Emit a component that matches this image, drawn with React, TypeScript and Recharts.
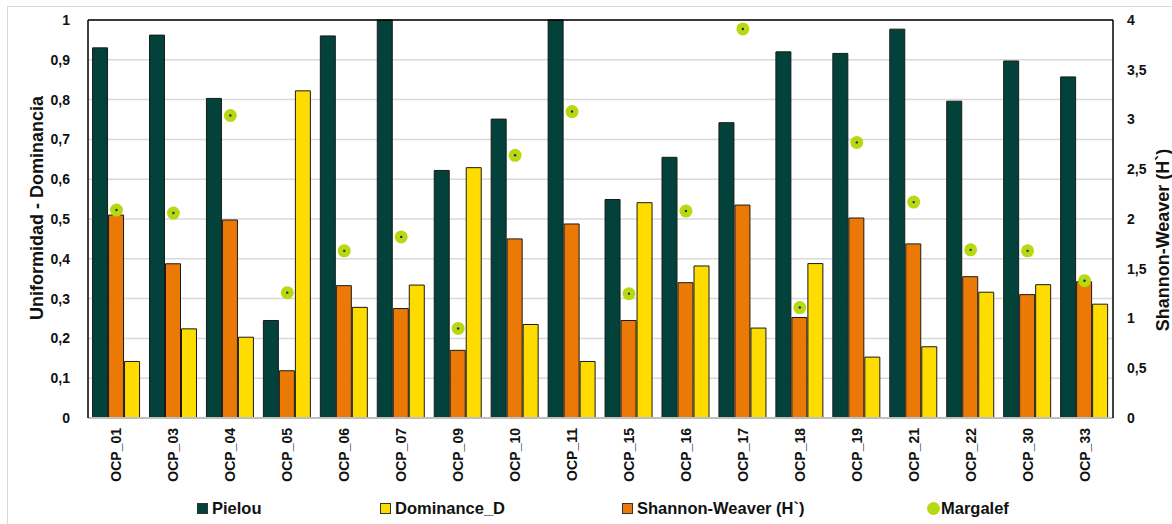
import { ComposedChart, Bar, Scatter, XAxis, YAxis, CartesianGrid, ReferenceLine, Legend, Label } from "recharts";

const categories = ["OCP_01", "OCP_03", "OCP_04", "OCP_05", "OCP_06", "OCP_07", "OCP_09", "OCP_10", "OCP_11", "OCP_15", "OCP_16", "OCP_17", "OCP_18", "OCP_19", "OCP_21", "OCP_22", "OCP_30", "OCP_33"];
const pielou = [0.93, 0.962, 0.803, 0.245, 0.96, 1.0, 0.622, 0.751, 1.0, 0.549, 0.655, 0.742, 0.92, 0.916, 0.977, 0.796, 0.897, 0.857];
const dominance = [0.142, 0.224, 0.203, 0.822, 0.278, 0.334, 0.629, 0.235, 0.142, 0.541, 0.382, 0.226, 0.388, 0.153, 0.179, 0.316, 0.335, 0.286];
const shannon = [2.04, 1.55, 1.99, 0.475, 1.33, 1.1, 0.68, 1.8, 1.95, 0.98, 1.36, 2.14, 1.01, 2.01, 1.75, 1.42, 1.24, 1.37];
const margalef = [2.09, 2.06, 3.04, 1.26, 1.68, 1.82, 0.9, 2.64, 3.08, 1.25, 2.08, 3.91, 1.11, 2.77, 2.17, 1.69, 1.68, 1.38];
const leftTicks = [0, 0.1, 0.2, 0.3, 0.4, 0.5, 0.6, 0.7, 0.8, 0.9, 1];
const rightTicks = [0, 0.5, 1, 1.5, 2, 2.5, 3, 3.5, 4];

const data = categories.map((name, i) => ({
  name,
  pielou: pielou[i],
  dominance: dominance[i],
  shannon: shannon[i],
  margalef: margalef[i],
}));

const FONT = "'Liberation Sans', Arial, sans-serif";
const GREEN = "#03423a";
const ORANGE = "#ea7a05";
const YELLOW = "#ffdc00";
const LIME = "#b6d912";

const fmt = (v: number) => String(v).replace(".", ",");

const tickStyle = { fontSize: 14, fontWeight: 700, fill: "#111", fontFamily: FONT };

function XTick(props: any) {
  const { x, payload } = props;
  return (
    <text
      x={x}
      y={428}
      transform={`rotate(-90, ${x}, 428)`}
      textAnchor="end"
      dominantBaseline="central"
      style={tickStyle}
    >
      {payload.value}
    </text>
  );
}

function Dot(props: any) {
  const { cx, cy } = props;
  if (cx == null || cy == null) return null;
  return (
    <g>
      <circle cx={cx} cy={cy} r={6.5} fill={LIME} />
      <circle cx={cx} cy={cy} r={1.2} fill="#1d2b5c" />
    </g>
  );
}

const legendItems = [
  { label: "Pielou", color: GREEN, round: false, left: 197 },
  { label: "Dominance_D", color: YELLOW, round: false, left: 380 },
  { label: "Shannon-Weaver (H`)", color: ORANGE, round: false, left: 622 },
  { label: "Margalef", color: LIME, round: true, left: 927 },
];

function LegendBox() {
  return (
    <div style={{ position: "relative", height: 30, width: 1172, fontFamily: FONT }}>
      {legendItems.map((it) => (
        <div key={it.label} style={{ position: "absolute", left: it.left, top: 0, height: 30, display: "flex", alignItems: "center" }}>
          {it.round ? (
            <span style={{ width: 13, height: 13, borderRadius: "50%", background: it.color, display: "inline-block", marginRight: 1 }} />
          ) : (
            <span style={{ width: 9, height: 9, background: it.color, border: "1px solid #333", display: "inline-block", marginRight: 4 }} />
          )}
          <span style={{ fontSize: 16.5, fontWeight: 700, color: "#111" }}>{it.label}</span>
        </div>
      ))}
    </div>
  );
}

function AxisTitle(props: any) {
  const { x, y, text } = props;
  return (
    <text
      x={x}
      y={y}
      transform={`rotate(-90, ${x}, ${y})`}
      textAnchor="middle"
      dominantBaseline="central"
      style={{ fontSize: 18, fontWeight: 700, fill: "#111", fontFamily: FONT }}
    >
      {text}
    </text>
  );
}

export default function App() {
  return (
    <div style={{ position: "absolute", left: 0, top: 0, width: 1172, height: 524, background: "#fff", overflow: "hidden" }}>
      <div style={{ position: "absolute", left: 7, top: 6, width: 1180, height: 540, border: "1px solid #d9d9d9" }} />
      <div style={{ position: "absolute", left: 0, top: 0 }}>
        <ComposedChart
          width={1172}
          height={524}
          data={data}
          margin={{ top: 20, right: 0, bottom: 1, left: 0 }}
          barCategoryGap="8%"
          barGap={1}
        >
          <CartesianGrid yAxisId="left" vertical={false} stroke="#d9d9d9" strokeWidth={1.5} />
          <XAxis
            dataKey="name"
            height={75}
            interval={0}
            tick={<XTick />}
            tickLine={false}
            axisLine={{ stroke: "#bfbfbf", strokeWidth: 2 }}
          />
          <YAxis
            yAxisId="left"
            width={88}
            domain={[0, 1]}
            ticks={leftTicks}
            tickFormatter={fmt}
            tick={tickStyle}
            tickLine={false}
            tickSize={0}
            tickMargin={18}
            axisLine={{ stroke: "#000", strokeWidth: 1.5 }}
          >
            <Label content={() => <AxisTitle x={37} y={208} text="Uniformidad - Dominancia" />} />
          </YAxis>
          <YAxis
            yAxisId="right"
            orientation="right"
            width={59}
            domain={[0, 4]}
            ticks={rightTicks}
            tickFormatter={fmt}
            tick={tickStyle}
            tickLine={false}
            tickSize={0}
            tickMargin={14}
            axisLine={{ stroke: "#000", strokeWidth: 1.5 }}
          >
            <Label content={() => <AxisTitle x={1163} y={240} text="Shannon-Weaver (H`)" />} />
          </YAxis>
          <ReferenceLine yAxisId="left" y={1} stroke="#000" strokeWidth={1.5} />
          <Bar yAxisId="left" dataKey="pielou" name="Pielou" fill={GREEN} stroke="#1a1a1a" strokeWidth={1} isAnimationActive={false} />
          <Bar yAxisId="right" dataKey="shannon" name="Shannon-Weaver (H`)" fill={ORANGE} stroke="#1a1a1a" strokeWidth={1} isAnimationActive={false} />
          <Bar yAxisId="left" dataKey="dominance" name="Dominance_D" fill={YELLOW} stroke="#1a1a1a" strokeWidth={1} isAnimationActive={false} />
          <Scatter yAxisId="right" dataKey="margalef" name="Margalef" fill={LIME} shape={<Dot />} isAnimationActive={false} />
          <Legend verticalAlign="bottom" align="left" content={() => <LegendBox />} />
        </ComposedChart>
      </div>
    </div>
  );
}
